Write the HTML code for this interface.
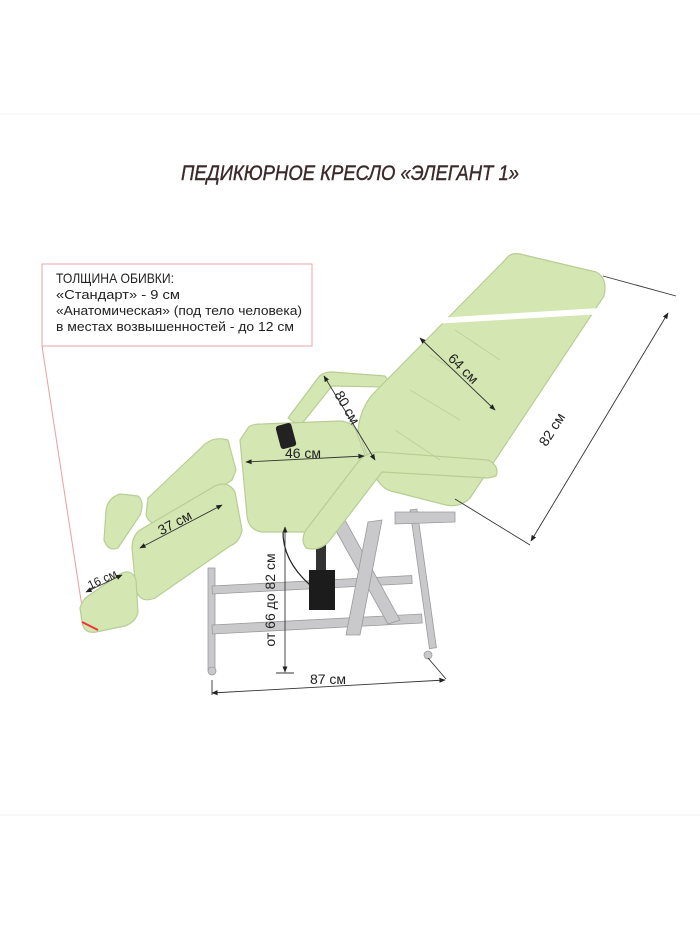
<!DOCTYPE html>
<html><head><meta charset="utf-8"><style>
html,body{margin:0;padding:0;background:#fff}
svg{display:block}
text{font-family:"Liberation Sans Narrow","Liberation Sans",sans-serif}
</style></head><body>
<svg width="700" height="933" viewBox="0 0 700 933" xmlns="http://www.w3.org/2000/svg">
<rect width="700" height="933" fill="#fff"/>
<line x1="0" y1="114" x2="700" y2="114" stroke="#f1f1f1"/>
<line x1="0" y1="815" x2="700" y2="815" stroke="#f1f1f1"/>
<text x="350" y="180" text-anchor="middle" font-size="21" font-style="italic" fill="#3b2a2a" stroke="#3b2a2a" stroke-width="0.4" textLength="338" lengthAdjust="spacingAndGlyphs">ПЕДИКЮРНОЕ КРЕСЛО «ЭЛЕГАНТ 1»</text>

<rect x="42" y="264" width="270" height="82" fill="none" stroke="#e6a4a4" stroke-width="1"/>
<line x1="42" y1="346" x2="84" y2="620" stroke="#e7a0a0" stroke-width="1"/>
<g font-size="13" fill="#222">
<text x="56" y="283" font-size="14" textLength="118" lengthAdjust="spacingAndGlyphs">ТОЛЩИНА ОБИВКИ:</text>
<text x="56" y="299" textLength="124" lengthAdjust="spacingAndGlyphs">«Стандарт» - 9 см</text>
<text x="56" y="315" textLength="246" lengthAdjust="spacingAndGlyphs">«Анатомическая» (под тело человека)</text>
<text x="56" y="331" textLength="238" lengthAdjust="spacingAndGlyphs">в местах возвышенностей - до 12 см</text>
</g>

<g fill="#c9c9cb" stroke="#9a9a9e" stroke-width="0.8">
<rect x="208" y="568" width="7" height="102"/>
<rect x="212" y="586" width="200" height="8" transform="rotate(-3 212 586)"/>
<rect x="212" y="625" width="210" height="9" transform="rotate(-3 212 625)"/>
<polygon points="330,520 345,520 400,620 388,624"/>
<polygon points="368,522 382,520 360,635 346,635"/>
<rect x="410" y="510" width="7" height="140" transform="rotate(-8 410 510)"/>
<polygon points="395,512 455,512 455,522 395,524"/>
<circle cx="212" cy="671" r="4"/>
<circle cx="428" cy="655" r="4"/>
</g>
<rect x="316" y="535" width="10" height="40" fill="#333"/>
<rect x="309" y="570" width="26" height="40" fill="#1c1c1c"/>
<path d="M283 530 Q282 560 310 585" fill="none" stroke="#222" stroke-width="1.2"/>

<g fill="#d4e7b2" stroke="#b8cd94" stroke-width="1.2" stroke-linejoin="round">
<path d="M288 418 L318 378 Q322 372 332 372 L385 376 Q390 382 385 387 L332 386 L300 426 Z"/>
<path d="M520 254 L596 272 Q608 278 604 296 L470 498 Q460 508 446 505 L395 492 Q380 490 372 470 L358 430 Q360 410 372 395 L505 260 Q510 252 520 254 Z"/>
<path d="M148 498 L205 444 Q215 436 228 440 L236 470 L232 480 L168 522 Q150 528 146 515 Z"/>
<path d="M106 510 Q108 498 120 494 L138 496 Q145 502 140 515 L118 548 Q108 552 104 540 Z"/>
<path d="M248 428 Q250 424 262 424 L340 421 Q352 422 356 430 L365 455 L345 520 Q340 530 320 532 L262 532 Q248 530 247 515 L240 440 Z"/>
<path d="M140 530 L215 486 Q228 480 235 492 L242 530 Q240 542 230 546 L155 598 Q140 604 136 590 L132 548 Q132 536 140 530 Z"/>
<path d="M88 596 L120 574 Q132 568 136 580 L138 612 Q136 622 125 626 L96 632 Q84 634 82 622 L80 608 Q82 600 88 596 Z"/>
<path d="M306 548 Q300 540 306 530 L358 462 Q366 452 380 452 L488 460 Q500 466 496 476 L488 478 L382 472 L330 540 Q320 552 306 548 Z"/>
</g>
<polygon points="436,318 600,308 602,314 432,324" fill="#fff"/>
<g fill="none" stroke="#bcd09c" stroke-width="0.8">
<path d="M430 355 L470 380 M455 330 L500 360 M410 390 L460 420 M395 430 L440 460"/>
</g>
<rect x="278" y="424" width="16" height="24" rx="3" fill="#222" transform="rotate(-15 286 436)"/>

<defs>
<marker id="a" viewBox="0 0 10 10" refX="9" refY="5" markerWidth="7" markerHeight="7" orient="auto-start-reverse"><path d="M0 1 L10 5 L0 9 Z" fill="#222"/></marker>
</defs>
<g stroke="#333" stroke-width="0.9" fill="none">
<line x1="603" y1="276" x2="676" y2="296"/>
<line x1="668" y1="313" x2="531" y2="541" marker-start="url(#a)" marker-end="url(#a)"/>
<line x1="455" y1="499" x2="530" y2="545"/>
<line x1="420" y1="338" x2="495" y2="410" marker-start="url(#a)" marker-end="url(#a)"/>
<line x1="324" y1="376" x2="375" y2="460" marker-start="url(#a)" marker-end="url(#a)"/>
<line x1="246" y1="462" x2="364" y2="456" marker-start="url(#a)" marker-end="url(#a)"/>
<line x1="140" y1="548" x2="222" y2="505" marker-start="url(#a)" marker-end="url(#a)"/>
<line x1="86" y1="592" x2="122" y2="575" marker-start="url(#a)" marker-end="url(#a)"/>
<line x1="285" y1="527" x2="285" y2="672" marker-start="url(#a)" marker-end="url(#a)"/>
<line x1="276" y1="673" x2="294" y2="673"/>
<line x1="212" y1="680" x2="212" y2="695"/>
<line x1="212" y1="693" x2="445" y2="680" marker-start="url(#a)" marker-end="url(#a)"/>
<line x1="428" y1="658" x2="446" y2="679"/>
</g>
<line x1="82" y1="622" x2="98" y2="630" stroke="#e33" stroke-width="2"/>
<g font-size="14" fill="#222">
<text transform="translate(556,432) rotate(-58)" text-anchor="middle">82 см</text>
<text transform="translate(460,372) rotate(45)" text-anchor="middle">64 см</text>
<text transform="translate(343,410) rotate(60)" text-anchor="middle">80 см</text>
<text x="303" y="458" text-anchor="middle">46 см</text>
<text transform="translate(177,527) rotate(-28)" text-anchor="middle">37 см</text>
<text transform="translate(104,583) rotate(-25)" text-anchor="middle" font-size="12">16 см</text>
<text transform="translate(275,600) rotate(-90)" text-anchor="middle">от 66 до 82 см</text>
<text x="328" y="684" text-anchor="middle">87 см</text>
</g>
</svg>
</body></html>
